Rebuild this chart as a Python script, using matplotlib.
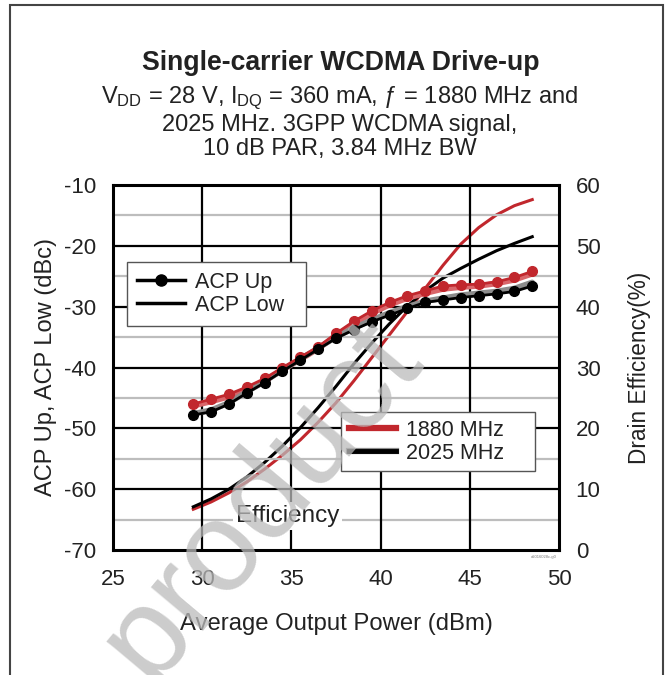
import matplotlib
matplotlib.use("Agg")
import matplotlib.pyplot as plt
from matplotlib.lines import Line2D
from matplotlib.patches import Rectangle
from matplotlib.legend_handler import HandlerTuple

plt.rcParams['font.family'] = ['Liberation Sans', 'DejaVu Sans']
plt.rcParams['mathtext.fontset'] = 'custom'
plt.rcParams['mathtext.rm'] = 'Liberation Sans'
plt.rcParams['mathtext.it'] = 'Liberation Sans:italic'
plt.rcParams['axes.unicode_minus'] = False

# ---------------- data ----------------
pout = [29.5, 30.5, 31.5, 32.5, 33.5, 34.5, 35.5, 36.5, 37.5, 38.5,
        39.5, 40.5, 41.5, 42.5, 43.5, 44.5, 45.5, 46.5, 47.5, 48.5]

acp_up_1880 = [-46.0, -45.2, -44.4, -43.2, -41.8, -40.0, -38.3, -36.6, -34.4, -32.4,
               -30.7, -29.3, -28.2, -27.4, -26.6, -26.4, -26.3, -25.9, -25.2, -24.2]
acp_low_1880 = [-46.3, -45.6, -44.8, -43.6, -42.2, -40.4, -38.7, -36.9, -34.8, -32.8,
                -31.1, -29.7, -28.6, -27.8, -27.1, -26.8, -26.6, -26.2, -25.6, -24.6]
acp_up_2025 = [-47.8, -47.3, -46.0, -44.2, -42.5, -40.6, -38.8, -37.0, -35.2, -33.8,
               -32.5, -31.4, -30.3, -29.3, -28.9, -28.5, -28.2, -27.9, -27.5, -26.6]
acp_low_2025 = [-47.6, -47.0, -45.8, -44.0, -42.3, -40.4, -38.6, -36.8, -35.0, -33.5,
                -32.2, -31.0, -30.0, -29.1, -28.6, -28.1, -27.8, -27.5, -27.0, -26.0]
eff_1880 = [6.7, 7.9, 9.4, 11.2, 13.3, 15.6, 18.1, 21.0, 24.2, 27.8,
            31.6, 35.4, 39.2, 43.0, 46.8, 50.3, 53.0, 55.1, 56.6, 57.6]
eff_2025 = [7.1, 8.4, 10.0, 12.0, 14.4, 17.1, 20.1, 23.4, 26.9, 30.6,
            34.0, 37.2, 40.1, 42.6, 44.7, 46.3, 47.8, 49.2, 50.4, 51.5]

x_ticks = [25, 30, 35, 40, 45, 50]
y_ticks = [-70, -60, -50, -40, -30, -20, -10]
y_minor = [-65, -55, -45, -35, -25, -15]
y2_ticks = [0, 10, 20, 30, 40, 50, 60]

title = "Single-carrier WCDMA Drive-up"
subtitle = ("V$_{\\mathrm{DD}}$ = 28 V, I$_{\\mathrm{DQ}}$ = 360 mA, ƒ = 1880 MHz and\n"
            "2025 MHz. 3GPP WCDMA signal,\n10 dB PAR, 3.84 MHz BW")

RED = '#C1272D'
RED_LIGHT = '#D9666A'
GREY = '#8C8C8C'
TXT = '#222222'

# ---------------- figure ----------------
W, H = 668, 675
fig = plt.figure(figsize=(W / 100, H / 100), dpi=100)

# outer frame (open at bottom)
fig.patches.append(Rectangle((10 / W, -0.05), (663 - 10) / W, 1.05 - 5 / H,
                             transform=fig.transFigure, fill=False,
                             edgecolor='#444444', lw=1.5))

ax = fig.add_axes([113 / W, (H - 550) / H, (559 - 113) / W, (550 - 185) / H])
ax2 = ax.twinx()

ax.set_xlim(25, 50)
ax.set_ylim(-70, -10)
ax2.set_ylim(0, 60)

# grid
for yv in y_minor:
    ax.axhline(yv, color='#BDBDBD', lw=1.6, zorder=1)
for yv in y_ticks[1:-1]:
    ax.axhline(yv, color='black', lw=1.6, zorder=1.2)
for xv in x_ticks[1:-1]:
    ax.axvline(xv, color='black', lw=1.6, zorder=1.2)

for sp in ax.spines.values():
    sp.set_linewidth(2.2)
for sp in ax2.spines.values():
    sp.set_visible(False)

# ACP curves
ax.plot(pout, acp_low_1880, color=RED_LIGHT, lw=4, zorder=3, solid_capstyle='round')
ax.plot(pout, acp_low_2025, color=GREY, lw=4, zorder=3, solid_capstyle='round')
ax.plot(pout, acp_up_1880, color=RED, lw=2, marker='o', ms=7, zorder=4)
ax.plot(pout, acp_up_2025, color='black', lw=2, marker='o', ms=7, zorder=4)

# efficiency curves (right axis)
ax2.plot(pout, eff_1880, color=RED, lw=2.2, zorder=3)
ax2.plot(pout, eff_2025, color='black', lw=2.2, zorder=3)

ax.set_xticks(x_ticks)
ax.set_yticks(y_ticks)
ax2.set_yticks(y2_ticks)
ax.tick_params(length=0, labelsize=16, pad=12, labelcolor=TXT)
ax.tick_params(axis='x', pad=14)
ax2.tick_params(length=0, labelsize=16, pad=12, labelcolor=TXT)

ax.set_xlabel("Average Output Power (dBm)", fontsize=17.2, labelpad=16, color=TXT)
ax.set_ylabel("ACP Up, ACP Low (dBc)", fontsize=17, labelpad=5, color=TXT)
ax2.set_ylabel("Drain Efficiency(%)", fontsize=16.3, labelpad=20, color=TXT)

# legends
h1 = [Line2D([], [], color='black', lw=2.5, marker='o', ms=8),
      Line2D([], [], color='black', lw=2.5)]
leg1 = ax.legend(h1, ["ACP Up", "ACP Low  "], loc='upper left',
                 bbox_to_anchor=((127 - 113) / 446, (550 - 262) / 365),
                 borderaxespad=0, fontsize=15.5, handlelength=2.25,
                 handletextpad=0.45, labelspacing=0.1, borderpad=0.45,
                 fancybox=False, framealpha=1, edgecolor='#555555')
leg1.get_frame().set_linewidth(1.0)
leg1.set_zorder(6)
for t in leg1.get_texts():
    t.set_color(TXT)
ax.add_artist(leg1)

h2 = [Line2D([], [], color=RED, lw=4.5),
      (Line2D([], [], color=GREY, lw=4.5), Line2D([], [], color='black', lw=3.5))]
leg2 = ax.legend(h2, ["1880 MHz    ", "2025 MHz    "], loc='upper left',
                 bbox_to_anchor=((341 - 113) / 446, (550 - 412) / 365),
                 borderaxespad=0, fontsize=15.5, handlelength=2.2,
                 handletextpad=0.45, labelspacing=0.1, borderpad=0.35,
                 fancybox=False, framealpha=1, edgecolor='#555555',
                 handler_map={tuple: HandlerTuple(ndivide=1)})
leg2.get_frame().set_linewidth(1.0)
leg2.set_zorder(6)
for t in leg2.get_texts():
    t.set_color(TXT)

ax.text(34.8, -64.4, "Efficiency", fontsize=17.5, ha='center', va='center',
        color=TXT, zorder=5,
        bbox=dict(facecolor='white', edgecolor='none', pad=2))

ax2.set_zorder(0)
ax.set_zorder(1)
ax.patch.set_visible(False)

# small figure code
fig.text(557 / W, 1 - 557 / H, "a2016028c-g0", fontsize=3, color='#777777',
         ha='right', va='center')

# titles
fig.text(341 / W, 1 - 63 / H, title, fontsize=19.2, fontweight='bold', ha='center',
         va='center', color=TXT)
fig.text(340 / W, 1 - 122 / H, subtitle, fontsize=17, ha='center', va='center',
         color=TXT, linespacing=1.12)

# watermark
fig.text(262 / W, 1 - 500 / H, "product", fontsize=92, rotation=50,
         ha='center', va='center', color='#BBBBBB', alpha=0.75, zorder=10)

fig.savefig("out.png", dpi=100)
